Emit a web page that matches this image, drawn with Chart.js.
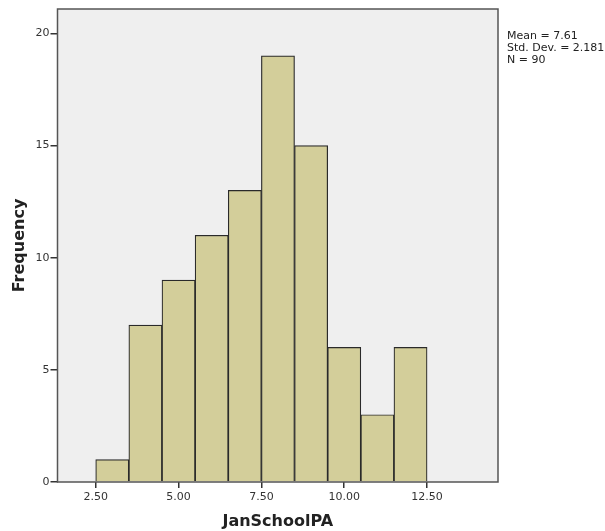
<!DOCTYPE html>
<html>
<head>
<meta charset="utf-8">
<script src="https://cdn.jsdelivr.net/npm/chart.js@4/dist/chart.umd.min.js"></script>
<style>
  html, body { margin: 0; padding: 0; background: #fff; }
  #wrap { width: 605px; height: 531px; }
</style>
</head>
<body>
<div id="wrap"><canvas id="histChart"></canvas></div>
<script>
// bin centres (width 1) and counts
var binCenters = [3, 4, 5, 6, 7, 8, 9, 10, 11, 12];
var counts = [1, 7, 9, 11, 13, 19, 15, 6, 3, 6];
var xTicks = [2.5, 5, 7.5, 10, 12.5];
var yTicks = [0, 5, 10, 15, 20];
var statsLines = ["Mean = 7.61", "Std. Dev. = 2.181", "N = 90"];

var points = [];
for (var i = 0; i < binCenters.length; i++) {
  points.push({ x: binCenters[i], y: counts[i] });
}

var frame = {
  id: "frame",
  beforeDatasetsDraw: function (chart) {
    var a = chart.chartArea, c = chart.ctx;
    c.save();
    c.fillStyle = "#efefef";
    c.fillRect(a.left, a.top, a.right - a.left, a.bottom - a.top);
    c.restore();
  },
  afterDraw: function (chart) {
    var a = chart.chartArea, c = chart.ctx;
    c.save();
    c.strokeStyle = "#555";
    c.lineWidth = 1.5;
    c.strokeRect(a.left, a.top, a.right - a.left, a.bottom - a.top);
    c.fillStyle = "#222";
    c.font = "11px 'DejaVu Sans', sans-serif";
    c.textBaseline = "middle";
    for (var k = 0; k < statsLines.length; k++) {
      c.fillText(statsLines[k], a.right + 9, 36 + k * 12);
    }
    c.restore();
  }
};

new Chart(document.getElementById("histChart"), {
  type: "bar",
  data: {
    datasets: [{
      label: "Frequency",
      data: points,
      backgroundColor: "#d3ce9a",
      borderColor: "#2a2a2a",
      borderWidth: 1.2,
      barPercentage: 1,
      categoryPercentage: 1
    }]
  },
  options: {
    responsive: true,
    maintainAspectRatio: false,
    animation: false,
    layout: { padding: { left: 0, top: 9, right: 107, bottom: 0 } },
    plugins: { legend: { display: false }, tooltip: { enabled: false } },
    scales: {
      x: {
        type: "linear",
        offset: false,
        min: 1.347,
        max: 14.64,
        afterBuildTicks: function (s) { s.ticks = xTicks.map(function (v) { return { value: v }; }); },
        afterFit: function (s) { s.height = 49; },
        grid: { offset: false, drawOnChartArea: false, drawTicks: true, tickLength: 6, color: "#333", lineWidth: 1.5 },
        border: { display: false },
        ticks: {
          color: "#333",
          font: { size: 11, family: "'DejaVu Sans', sans-serif" },
          padding: 3,
          maxRotation: 0,
          callback: function (v) { return v.toFixed(2); }
        },
        title: {
          display: true,
          text: "JanSchoolPA",
          color: "#222",
          font: { size: 16, weight: "bold", family: "'DejaVu Sans', sans-serif" },
          padding: { top: 4, bottom: 0 }
        }
      },
      y: {
        min: 0,
        max: 21.09,
        afterBuildTicks: function (s) { s.ticks = yTicks.map(function (v) { return { value: v }; }); },
        afterFit: function (s) { s.width = 57.5; },
        grid: { drawOnChartArea: false, drawTicks: true, tickLength: 7, color: "#333", lineWidth: 1.5 },
        border: { display: false },
        ticks: {
          color: "#333",
          font: { size: 11, family: "'DejaVu Sans', sans-serif" },
          padding: 1
        },
        title: {
          display: true,
          text: "Frequency",
          color: "#222",
          font: { size: 16, weight: "bold", family: "'DejaVu Sans', sans-serif" },
          padding: { top: 10, bottom: 0 }
        }
      }
    }
  },
  plugins: [frame]
});
</script>
</body>
</html>
